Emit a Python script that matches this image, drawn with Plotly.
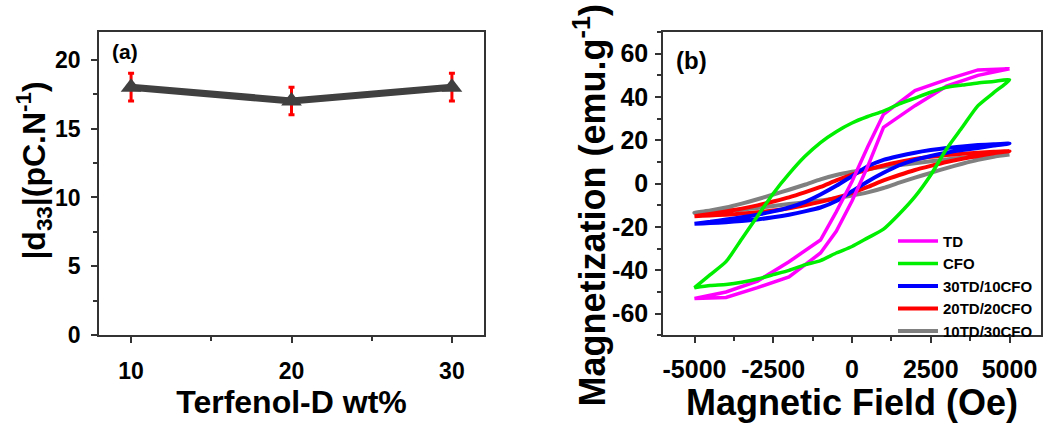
import plotly.graph_objects as go

# ---------------- Panel (a) data ----------------
td_wt = [10, 20, 30]
d33 = [18, 17, 18]
d33_err = [1, 1, 1]
a_xticks = [10, 20, 30]
a_yticks = [0, 5, 10, 15, 20]

# ---------------- Panel (b) data ----------------
b_xticks = [-5000, -2500, 0, 2500, 5000]
b_xticktext = ["-5000", "-2500", "0", "2500", "5000"]
b_yticks = [-60, -40, -20, 0, 20, 40, 60]
b_yticktext = ["-60", "-40", "-20", "0", "20", "40", "60"]

# field steps (Oe) for descending (+5000 -> -5000) and ascending (-5000 -> +5000) branches
H_desc = [5000, 4500, 4000, 3500, 3000, 2500, 2000, 1500, 1000, 500, 0,
          -500, -1000, -1500, -2000, -2500, -3000, -3500, -4000, -4500, -5000]
H_asc = [-5000, -4500, -4000, -3500, -3000, -2500, -2000, -1500, -1000, -500, 0,
         500, 1000, 1500, 2000, 2500, 3000, 3500, 4000, 4500, 5000]

# TD (measured at coarser points, drawn as straight segments)
H_td_desc = [5000, 4000, 3000, 2000, 1000, 500, 0, -500, -1000, -2000, -3000, -4000, -5000]
H_td_asc = [-5000, -4000, -3000, -2000, -1000, -500, 0, 500, 1000, 2000, 3000, 4000, 5000]
M_td_desc = [53, 52.5, 48, 43, 32, 17, 1, -13, -26, -36, -45, -50, -53]
M_td_asc = [-53, -52.5, -48, -43, -32, -22, -8, 8, 26, 36, 45, 50, 53]

M_cfo_desc = [48, 47.2, 46.5, 45.5, 44.5, 42.2, 39.5, 36.8, 33.5, 31, 28,
              24, 19, 12.5, 4.5, -4.5, -15, -25.5, -36, -42, -48]
M_cfo_asc = [-48, -47, -46.5, -45.5, -44, -42, -40, -37.5, -35.5, -32, -29,
             -25, -21, -14, -6, 4, 16, 26, 36, 42, 48]

M_30td_desc = [18.5, 18.2, 17.8, 17.2, 16.5, 15.5, 14.3, 12.8, 11, 8, 3.5,
               -1, -5, -8.5, -11, -12.8, -14.3, -15.5, -16.5, -17.6, -18.5]
M_30td_asc = [-18.5, -18.2, -17.8, -17.2, -16.5, -15.5, -14.3, -12.8, -11, -8, -3.5,
              1, 5, 8.5, 11, 12.8, 14.3, 15.5, 16.5, 17.6, 18.5]

M_20td_desc = [15, 14.7, 14.3, 13.8, 13.2, 12.4, 11.4, 10, 8.4, 6.5, 4.2,
               1.5, -1.5, -4, -6.3, -8.2, -10, -11.5, -12.8, -14, -15]
M_20td_asc = [-15, -14.7, -14.3, -13.8, -13.2, -12.4, -11.4, -10, -8.4, -6.5, -4.2,
              -1.5, 1.5, 4, 6.3, 8.2, 10, 11.5, 12.8, 14, 15]

M_10td_desc = [13.5, 13.1, 12.6, 12, 11.2, 10.3, 9.4, 8.6, 7.8, 6.7, 5.5,
               4, 2, -0.5, -2.8, -5, -7.2, -9.2, -11, -12.4, -13.4]
M_10td_asc = [-13.5, -13.1, -12.6, -12, -11.2, -10.3, -9.4, -8.6, -7.8, -6.7, -5.5,
              -4, -2, 0.5, 2.8, 5, 7.2, 9.2, 11, 12.4, 13.4]

FONT = "Liberation Sans, Arial, sans-serif"
W, H = 1049, 423


def px_x(p):
    return p / W


def px_y(p):
    return 1 - p / H


fig = go.Figure()

# Panel (a)
fig.add_trace(go.Scatter(
    x=td_wt, y=d33, mode="lines+markers",
    line=dict(color="#404040", width=7),
    marker=dict(symbol="triangle-up", size=18, color="#404040"),
    error_y=dict(type="data", array=d33_err, visible=True, color="#ff0000",
                 thickness=3, width=3),
    xaxis="x", yaxis="y", showlegend=False))

# Panel (b)
loops = [
    ("10TD/30CFO", "#808080", H_desc, M_10td_desc, H_asc, M_10td_asc, "spline", 4, 5),
    ("20TD/20CFO", "#ff0000", H_desc, M_20td_desc, H_asc, M_20td_asc, "spline", 4, 4),
    ("30TD/10CFO", "#0000ff", H_desc, M_30td_desc, H_asc, M_30td_asc, "spline", 4, 3),
    ("TD", "#ff00ff", H_td_desc, M_td_desc, H_td_asc, M_td_asc, "linear", 3.5, 1),
    ("CFO", "#00ee00", H_desc, M_cfo_desc, H_asc, M_cfo_asc, "spline", 3.5, 2),
]
for name, col, hd, md, ha, ma, shape, lw, rank in loops:
    line = dict(color=col, width=lw, shape=shape)
    if shape == "spline":
        line["smoothing"] = 0.6
    fig.add_trace(go.Scatter(
        x=hd + ha, y=md + ma, mode="lines", name=name, line=line,
        xaxis="x2", yaxis="y2", legendrank=rank))

axis_common = dict(
    showgrid=False, zeroline=False, showline=True, linecolor="#333333", linewidth=1.5,
    mirror=True, ticks="outside", ticklen=6, tickwidth=1.5, tickcolor="#333333",
)


def tfont(size):
    return dict(family=FONT, size=size, color="black", weight="bold")


fig.update_layout(
    width=W, height=H, margin=dict(l=0, r=0, t=0, b=0),
    paper_bgcolor="white", plot_bgcolor="white",
    font=dict(family=FONT, color="black", weight="bold"),
    xaxis=dict(axis_common, domain=[px_x(99), px_x(484)], range=[8, 32], anchor="y",
               tickvals=a_xticks, tickfont=tfont(23),
               minor=dict(dtick=5, tick0=0, ticks="outside", ticklen=4, tickcolor="#333333"),
               title=dict(text="Terfenol-D wt%", font=tfont(32), standoff=4),
               ticklabelstandoff=8),
    yaxis=dict(axis_common, domain=[px_y(346), px_y(33)], range=[0, 22], anchor="x",
               tickvals=a_yticks, tickfont=tfont(23),
               minor=dict(dtick=2.5, tick0=0, ticks="outside", ticklen=4, tickcolor="#333333"),
               ticklabelstandoff=6),
    xaxis2=dict(axis_common, domain=[px_x(663), px_x(1041)], range=[-6000, 6000], anchor="y2",
                tickvals=b_xticks, ticktext=b_xticktext, tickfont=tfont(25),
                minor=dict(dtick=1250, tick0=0, ticks="outside", ticklen=4, tickcolor="#333333"),
                title=dict(text="Magnetic Field (Oe)", font=tfont(36), standoff=3),
                ticklabelstandoff=5),
    yaxis2=dict(axis_common, domain=[px_y(346), px_y(33)], range=[-70, 70], anchor="x2",
                tickvals=b_yticks, ticktext=b_yticktext, tickfont=tfont(25),
                minor=dict(dtick=10, tick0=0, ticks="outside", ticklen=4, tickcolor="#333333"),
                ticklabelstandoff=2),
    legend=dict(x=px_x(893), y=px_y(232), xanchor="left", yanchor="top",
                bgcolor="rgba(0,0,0,0)", font=tfont(15),
                tracegroupgap=0, itemwidth=40),
    annotations=[
        dict(text="(a)", x=px_x(110), y=px_y(53), xref="paper", yref="paper",
             xanchor="left", yanchor="middle", showarrow=False, font=tfont(21)),
        dict(text="(b)", x=px_x(674), y=px_y(62), xref="paper", yref="paper",
             xanchor="left", yanchor="middle", showarrow=False, font=tfont(24)),
        # y-axis titles
        dict(text="|d<sub>33</sub>|(pC.N<sup>-1</sup>)", x=px_x(34), y=px_y(176),
             xref="paper", yref="paper", xanchor="center", yanchor="middle",
             textangle=-90, showarrow=False, font=tfont(32)),
        dict(text="Magnetization (emu.g<sup>-1</sup>)", x=px_x(590), y=px_y(212),
             xref="paper", yref="paper", xanchor="center", yanchor="middle",
             textangle=-90, showarrow=False, font=tfont(36)),
    ],
)

fig.write_html("out.html")
